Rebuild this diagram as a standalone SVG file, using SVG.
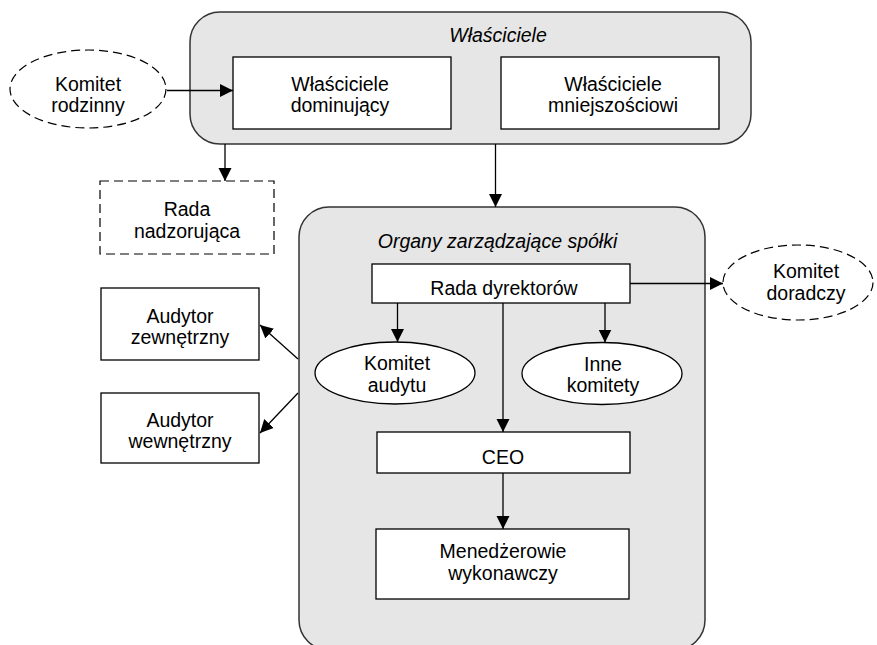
<svg xmlns="http://www.w3.org/2000/svg" width="877" height="645" viewBox="0 0 877 645">
<defs>
<marker id="arr" markerUnits="userSpaceOnUse" markerWidth="14" markerHeight="14" viewBox="0 0 14 14" refX="13" refY="7" orient="auto">
<path d="M0,0.5 L13,7 L0,13.5 Z" fill="#000"/>
</marker>
<style>
.grp{fill:#e6e6e6;stroke:#333;stroke-width:1.5}
.box{fill:#fff;stroke:#000;stroke-width:1.3}
.dash{fill:#fff;stroke:#000;stroke-width:1.2;stroke-dasharray:9 5}
.t{font-family:"Liberation Sans",Arial,sans-serif;font-size:19.5px;fill:#000;text-anchor:middle}
.ti{font-style:italic}
.c{fill:none;stroke:#000;stroke-width:1.3;marker-end:url(#arr)}
</style>
</defs>
<rect width="877" height="645" fill="#fff"/>

<g id="wlasciciele">
<rect class="grp" x="190" y="12" width="561" height="132" rx="30"/>
<text class="t ti" x="498" y="42">Właściciele</text>
</g>
<g id="dominujacy">
<rect class="box" x="233" y="57" width="218" height="72"/>
<text class="t" x="340" y="91">Właściciele</text>
<text class="t" x="340" y="112">dominujący</text>
</g>
<g id="mniejszosciowi">
<rect class="box" x="501" y="57" width="218" height="72"/>
<text class="t" x="613" y="91">Właściciele</text>
<text class="t" x="613" y="112">mniejszościowi</text>
</g>
<g id="komitet-rodzinny">
<ellipse class="dash" cx="88" cy="89" rx="78" ry="39"/>
<text class="t" x="88" y="91">Komitet</text>
<text class="t" x="88" y="112">rodzinny</text>
</g>
<g id="rada-nadzorujaca">
<rect class="dash" x="100" y="181" width="174" height="73"/>
<text class="t" x="187" y="216">Rada</text>
<text class="t" x="187" y="237.5">nadzorująca</text>
</g>
<g id="organy">
<rect class="grp" x="299" y="207" width="406" height="443" rx="30"/>
<text class="t ti" x="497.5" y="248">Organy zarządzające spółki</text>
</g>
<g id="rada-dyrektorow">
<rect class="box" x="372" y="264" width="258" height="39"/>
<text class="t" x="504" y="295">Rada dyrektorów</text>
</g>
<g id="komitet-audytu">
<ellipse class="box" cx="395" cy="373" rx="80" ry="31"/>
<text class="t" x="397" y="370">Komitet</text>
<text class="t" x="397" y="391.5">audytu</text>
</g>
<g id="inne-komitety">
<ellipse class="box" cx="602" cy="373.5" rx="80" ry="31"/>
<text class="t" x="603" y="371">Inne</text>
<text class="t" x="603" y="392">komitety</text>
</g>
<g id="komitet-doradczy">
<ellipse class="dash" cx="798" cy="282.5" rx="75" ry="37.5"/>
<text class="t" x="806" y="278">Komitet</text>
<text class="t" x="806" y="300">doradczy</text>
</g>
<g id="audytor-zewnetrzny">
<rect class="box" x="101" y="288" width="158" height="72"/>
<text class="t" x="180" y="322.5">Audytor</text>
<text class="t" x="180" y="344">zewnętrzny</text>
</g>
<g id="audytor-wewnetrzny">
<rect class="box" x="101" y="393" width="158" height="70"/>
<text class="t" x="180" y="426.5">Audytor</text>
<text class="t" x="180" y="448">wewnętrzny</text>
</g>
<g id="ceo">
<rect class="box" x="377" y="432" width="253" height="41"/>
<text class="t" x="503" y="464">CEO</text>
</g>
<g id="menedzerowie">
<rect class="box" x="376" y="529" width="253" height="70"/>
<text class="t" x="503" y="558">Menedżerowie</text>
<text class="t" x="503" y="580">wykonawczy</text>
</g>

<g id="connectors">
<path class="c" d="M167,90.5 L233,90.5"/>
<path class="c" d="M225,144 L225,181"/>
<path class="c" d="M495.5,144 L495.5,207"/>
<path class="c" d="M397.5,303 L397.5,342"/>
<path class="c" d="M605,303 L605,342.5"/>
<path class="c" d="M503,303 L503,432"/>
<path class="c" d="M630,283.5 L723,283.5"/>
<path class="c" d="M503,473 L503,529"/>
<path class="c" d="M298,359 L260,325"/>
<path class="c" d="M298,393 L260,433"/>
</g>
</svg>
